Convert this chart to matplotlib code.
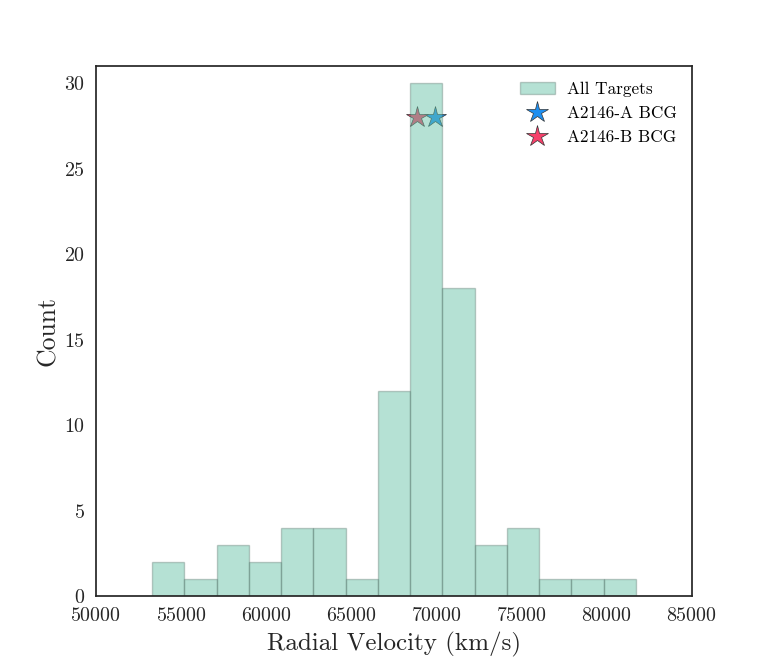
import numpy as np
import matplotlib
matplotlib.use("Agg")
import matplotlib.pyplot as plt

# Data
bin_start = 53300
bin_end = 81700
n_bins = 15
counts = [2, 1, 3, 2, 4, 4, 1, 12, 30, 18, 3, 4, 1, 1, 1]
bcg_a_velocity = [69900]
bcg_b_velocity = [68880]
bcg_count = [28]
xticks = [50000, 55000, 60000, 65000, 70000, 75000, 80000, 85000]
yticks = [0, 5, 10, 15, 20, 25, 30]

plt.rcParams['font.family'] = ['cmr10', 'DejaVu Serif']
plt.rcParams['axes.formatter.use_mathtext'] = True
plt.rcParams['mathtext.fontset'] = 'cm'

edges = np.linspace(bin_start, bin_end, n_bins + 1)
centers = 0.5 * (edges[:-1] + edges[1:])

fig = plt.figure(figsize=(7.7, 6.63), dpi=100)
ax = fig.add_axes([96/770, 1 - 596/663, (692-96)/770, (596-66)/663])

ax.plot(bcg_a_velocity, bcg_count, linestyle='none', marker='*', markersize=16,
        color='#1e8ff0', markeredgecolor='#333333', markeredgewidth=0.5,
        label='A2146-A BCG', zorder=1)
ax.plot(bcg_b_velocity, bcg_count, linestyle='none', marker='*', markersize=16,
        color='#f5406a', markeredgecolor='#333333', markeredgewidth=0.5,
        label='A2146-B BCG', zorder=1)
ax.hist(centers, bins=edges, weights=counts,
        facecolor=(102/255, 194/255, 165/255, 0.48),
        edgecolor=(0.25, 0.35, 0.32, 0.3), linewidth=1.0,
        label='All Targets', zorder=2)

ax.set_xlim(50000, 85000)
ax.set_ylim(0, 31)
ax.set_xticks(xticks)
ax.set_yticks(yticks)
ax.tick_params(axis='both', length=0, labelsize=14.4, colors='#262626')
ax.tick_params(axis='x', pad=8)
ax.tick_params(axis='y', pad=8)
for s in ax.spines.values():
    s.set_color('#262626')
    s.set_linewidth(1.25)

ax.set_xlabel('Radial Velocity (km/s)', fontsize=18, color='#262626', labelpad=5)
ax.set_ylabel('Count', fontsize=18.5, color='#262626', labelpad=3)

h, l = ax.get_legend_handles_labels()
order = [l.index('All Targets'), l.index('A2146-A BCG'), l.index('A2146-B BCG')]
leg = ax.legend([h[i] for i in order], [l[i] for i in order], loc='upper right',
                frameon=False, fontsize=12.4, handlelength=2.0, handletextpad=0.7,
                borderaxespad=0.5, labelspacing=0.5)
for lh in leg.legend_handles[1:]:
    lh.set_zorder(3)

fig.savefig('out.png', dpi=100)
